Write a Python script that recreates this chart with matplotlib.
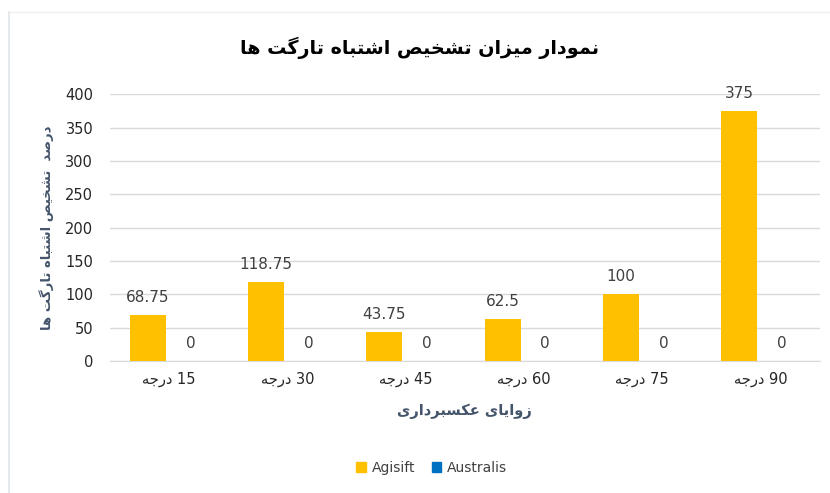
import matplotlib
matplotlib.use("Agg")
import matplotlib.pyplot as plt
from matplotlib.patches import Patch
import numpy as np

# داده ها
angles = [15, 30, 45, 60, 75, 90]
agisift = [68.75, 118.75, 43.75, 62.5, 100, 375]
australis = [0, 0, 0, 0, 0, 0]
series_names = ['Agisift', 'Australis']

title_txt = 'نمودار میزان تشخیص اشتباه تارگت ها'
ylabel_txt = 'درصد  تشخیص اشتباه تارگت ها'
xlabel_txt = 'زوایای عکسبرداری'
unit_txt = 'درجه'

# فرم های نمایشی حروف: (تنها، پایانی، آغازی، میانی)
FORMS = {
    'ا': ('\uFE8D', '\uFE8E', None, None),
    'ب': ('\uFE8F', '\uFE90', '\uFE91', '\uFE92'),
    'ت': ('\uFE95', '\uFE96', '\uFE97', '\uFE98'),
    'ج': ('\uFE9D', '\uFE9E', '\uFE9F', '\uFEA0'),
    'خ': ('\uFEA5', '\uFEA6', '\uFEA7', '\uFEA8'),
    'د': ('\uFEA9', '\uFEAA', None, None),
    'ر': ('\uFEAD', '\uFEAE', None, None),
    'ز': ('\uFEAF', '\uFEB0', None, None),
    'س': ('\uFEB1', '\uFEB2', '\uFEB3', '\uFEB4'),
    'ش': ('\uFEB5', '\uFEB6', '\uFEB7', '\uFEB8'),
    'ص': ('\uFEB9', '\uFEBA', '\uFEBB', '\uFEBC'),
    'ع': ('\uFEC9', '\uFECA', '\uFECB', '\uFECC'),
    'م': ('\uFEE1', '\uFEE2', '\uFEE3', '\uFEE4'),
    'ن': ('\uFEE5', '\uFEE6', '\uFEE7', '\uFEE8'),
    'ه': ('\uFEE9', '\uFEEA', '\uFEEB', '\uFEEC'),
    'و': ('\uFEED', '\uFEEE', None, None),
    'ی': ('\uFBFC', '\uFBFD', '\uFBFE', '\uFBFF'),
    'ک': ('\uFB8E', '\uFB8F', '\uFB90', '\uFB91'),
    'گ': ('\uFB92', '\uFB93', '\uFB94', '\uFB95'),
}


def joins_next(c):
    return c in FORMS and FORMS[c][2] is not None


def fa(text):
    # شکل دادن حروف و برعکس کردن برای نمایش راست به چپ
    out = []
    for i, c in enumerate(text):
        if c not in FORMS:
            out.append(c)
            continue
        prev = text[i - 1] if i > 0 else ''
        nxt = text[i + 1] if i + 1 < len(text) else ''
        left = joins_next(prev)
        right = joins_next(c) and nxt in FORMS
        iso, fin, ini, med = FORMS[c]
        if left and right:
            out.append(med)
        elif left:
            out.append(fin)
        elif right:
            out.append(ini)
        else:
            out.append(iso)
    return ''.join(reversed(out))


plt.rcParams['font.family'] = ['DejaVu Sans']

fig = plt.figure(figsize=(8.3, 4.93), dpi=100)
ax = fig.add_axes([0.1325, 0.268, 0.855, 0.541])

x = np.arange(len(angles))
w = 0.305
off = 0.18
bars1 = ax.bar(x - off, agisift, w, color='#FFC000', zorder=3)
bars2 = ax.bar(x + off, australis, w, color='#0070C0', zorder=3)

for b, v in zip(bars1, agisift):
    ax.annotate(f'{v:g}', (b.get_x() + b.get_width() / 2, v), xytext=(0, 7),
                textcoords='offset points', ha='center', va='bottom',
                fontsize=11, color='#404040')
for b, v in zip(bars2, australis):
    ax.annotate(f'{v:g}', (b.get_x() + b.get_width() / 2, v), xytext=(0, 7),
                textcoords='offset points', ha='center', va='bottom',
                fontsize=11, color='#404040')

ax.set_ylim(0, 400)
ax.set_xlim(-0.5, len(angles) - 0.5)
ax.set_yticks(range(0, 401, 50))
ax.set_xticks(x)
ax.set_xticklabels([fa(unit_txt) + ' ' + str(a) for a in angles])
ax.tick_params(axis='both', length=0, labelsize=10.5, colors='#262626', pad=8)
ax.tick_params(axis='y', pad=12)
ax.yaxis.grid(True, color='#D9D9D9', linewidth=1, zorder=0)
for s in ['top', 'right', 'left']:
    ax.spines[s].set_visible(False)
ax.spines['bottom'].set_color('#D9D9D9')

ax.set_xlabel(fa(xlabel_txt), fontsize=10.5, fontweight='bold', color='#44546A', labelpad=12)
ax.set_ylabel(fa(ylabel_txt), fontsize=9.5, fontweight='bold', color='#44546A', labelpad=8)

fig.text(0.505, 0.903, fa(title_txt), ha='center', va='center',
         fontsize=13.8, fontweight='bold', color='black')

handles = [Patch(color='#FFC000'), Patch(color='#0070C0')]
fig.legend(handles, series_names, loc='center', bbox_to_anchor=(0.52, 0.051),
           ncol=2, frameon=False, fontsize=10, handlelength=0.7, handleheight=0.7,
           columnspacing=1.2, handletextpad=0.4, labelcolor='#404040')

# قاب کمرنگ دور نمودار
fig.add_artist(plt.Line2D([0.011, 0.011], [0, 0.975], color='#E6E9EE', lw=1.5))
fig.add_artist(plt.Line2D([0.011, 1.0], [0.975, 0.975], color='#F0F0F0', lw=1))

fig.savefig('out.png', dpi=100)
